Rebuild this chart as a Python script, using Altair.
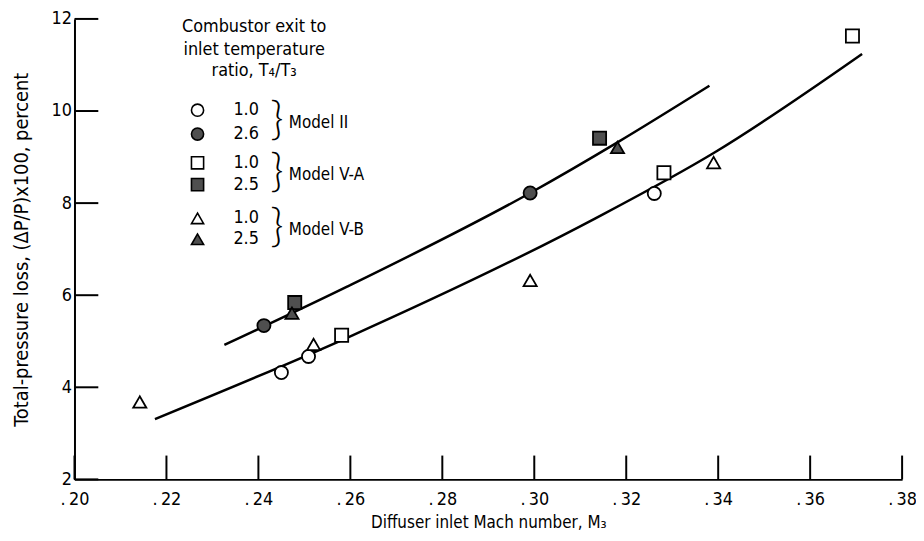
import altair as alt
import pandas as pd

# ---------------- data ----------------
x_ticks = [0.20, 0.22, 0.24, 0.26, 0.28, 0.30, 0.32, 0.34, 0.36, 0.38]
y_ticks = [2, 4, 6, 8, 10, 12]

# Model II
m2_10_M = [0.2450, 0.2509, 0.3261]
m2_10_P = [4.32, 4.67, 8.21]
m2_26_M = [0.2412, 0.2991]
m2_26_P = [5.34, 8.22]
# Model V-A
va_10_M = [0.2581, 0.3282, 0.3692]
va_10_P = [5.13, 8.66, 11.63]
va_25_M = [0.2479, 0.3142]
va_25_P = [5.84, 9.41]
# Model V-B
vb_10_M = [0.2142, 0.2520, 0.2991, 0.3390]
vb_10_P = [3.68, 4.93, 6.32, 8.88]
vb_25_M = [0.2473, 0.3181]
vb_25_P = [5.61, 9.21]

# faired curves
lower_M = [0.2175, 0.2594, 0.3133, 0.3392, 0.3713]
lower_P = [3.31, 5.08, 7.67, 9.10, 11.24]
upper_M = [0.2326, 0.2594, 0.2991, 0.3181, 0.3381]
upper_P = [4.92, 6.19, 8.22, 9.32, 10.55]

series_keys = ["II-1.0", "II-2.6", "VA-1.0", "VA-2.5", "VB-1.0", "VB-2.5"]
series_ratio = ["1.0", "2.6", "1.0", "2.5", "1.0", "2.5"]
series_shape = ["circle", "circle", "square", "square", "triangle-up", "triangle-up"]
series_fill = ["white", "#4f4f4f", "white", "#4f4f4f", "white", "#4f4f4f"]
model_names = ["Model II", "Model V-A", "Model V-B"]
legend_title = ["Combustor exit to", "inlet temperature", "ratio, T\u2084/T\u2083"]

FONT = "Liberation Sans Narrow, DejaVu Sans Condensed, sans-serif"

rows = []
for key, Ms, Ps in [
    ("II-1.0", m2_10_M, m2_10_P), ("II-2.6", m2_26_M, m2_26_P),
    ("VA-1.0", va_10_M, va_10_P), ("VA-2.5", va_25_M, va_25_P),
    ("VB-1.0", vb_10_M, vb_10_P), ("VB-2.5", vb_25_M, vb_25_P),
]:
    for m, p in zip(Ms, Ps):
        rows.append({"M": m, "P": p, "series": key})
pts = pd.DataFrame(rows)

curves = pd.DataFrame(
    [{"M": m, "P": p, "curve": "lower"} for m, p in zip(lower_M, lower_P)]
    + [{"M": m, "P": p, "curve": "upper"} for m, p in zip(upper_M, upper_P)]
)

W, H = 834, 464
xscale = alt.Scale(domain=[0.20, 0.38], nice=False, zero=False)
yscale = alt.Scale(domain=[2, 12], nice=False, zero=False)

x_enc = alt.X(
    "M:Q", scale=xscale,
    axis=alt.Axis(
        title="Diffuser inlet Mach number, M\u2083",
        values=x_ticks, ticks=False, grid=False, labelFlush=False,
        labelExpr="'.\u2009' + substring(format(datum.value, '.2f'), 2)",
        labelFontSize=18, labelPadding=11, titleFontSize=17, titlePadding=6,
        domainColor="black", domainWidth=2,
    ),
)
y_enc = alt.Y(
    "P:Q", scale=yscale,
    axis=alt.Axis(
        title="Total-pressure loss, (\u0394P/P)x100, percent",
        values=y_ticks, ticks=False, grid=False, labelFlush=False,
        labelFontSize=18, labelPadding=3, titleFontSize=20, titlePadding=20,
        domainColor="black", domainWidth=2,
    ),
)

curve_layer = alt.Chart(curves).mark_line(
    color="black", strokeWidth=2.5, interpolate="monotone"
).encode(x=x_enc, y=y_enc, detail="curve:N")

pt_layer = alt.Chart(pts).mark_point(
    size=175, strokeWidth=1.8, stroke="black", opacity=1, filled=False
).encode(
    x=alt.X("M:Q", scale=xscale),
    y=alt.Y("P:Q", scale=yscale),
    shape=alt.Shape("series:N", scale=alt.Scale(domain=series_keys, range=series_shape), legend=None),
    fill=alt.Fill("series:N", scale=alt.Scale(domain=series_keys, range=series_fill), legend=None),
)

# inward ticks
xt = alt.Chart(pd.DataFrame({"v": x_ticks})).mark_rule(color="black", strokeWidth=2).encode(
    x=alt.X("v:Q", scale=xscale), y=alt.value(H), y2=alt.value(H - 24)
)
yt = alt.Chart(pd.DataFrame({"v": y_ticks})).mark_rule(color="black", strokeWidth=2).encode(
    y=alt.Y("v:Q", scale=yscale), x=alt.value(0), x2=alt.value(24)
)

layers = [curve_layer, xt, yt, pt_layer]

# ---------------- manual legend ----------------
one = pd.DataFrame({"a": [0]})
title_y = [8, 31, 53]
for txt, ty in zip(legend_title, title_y):
    layers.append(alt.Chart(one).mark_text(
        font=FONT, fontSize=18, align="center", baseline="middle", color="black"
    ).encode(x=alt.value(181), y=alt.value(ty), text=alt.value(txt)))

row_y = [92, 116, 145, 167, 201, 222]
for i, key in enumerate(series_keys):
    layers.append(alt.Chart(one).mark_point(
        size=150, strokeWidth=1.6, stroke="black", opacity=1,
        shape=series_shape[i], fill=series_fill[i], filled=False,
    ).encode(x=alt.value(124), y=alt.value(row_y[i])))
    layers.append(alt.Chart(one).mark_text(
        font=FONT, fontSize=18, align="center", baseline="middle", color="black"
    ).encode(x=alt.value(173), y=alt.value(row_y[i]), text=alt.value(series_ratio[i])))

for j, name in enumerate(model_names):
    yc = (row_y[2 * j] + row_y[2 * j + 1]) / 2
    layers.append(alt.Chart(one).mark_text(
        font="Lato", fontSize=46, fontWeight=300,
        align="center", baseline="middle", color="black",
    ).encode(x=alt.value(204), y=alt.value(yc - 2), text=alt.value("}")))
    layers.append(alt.Chart(one).mark_text(
        font=FONT, fontSize=17, align="left", baseline="middle", color="black"
    ).encode(x=alt.value(216), y=alt.value(yc + 1), text=alt.value(name)))

chart = alt.layer(*layers).properties(
    width=W, height=H,
    autosize=alt.AutoSizeParams(type="none"),
    padding={"left": 67, "top": 9, "right": 14, "bottom": 50},
).configure_view(stroke=None).configure_axis(
    labelFont=FONT, titleFont=FONT, labelColor="black", titleColor="black",
    titleFontWeight="normal",
)

chart.save("out.html", embed_options={"renderer": "svg", "actions": False})
